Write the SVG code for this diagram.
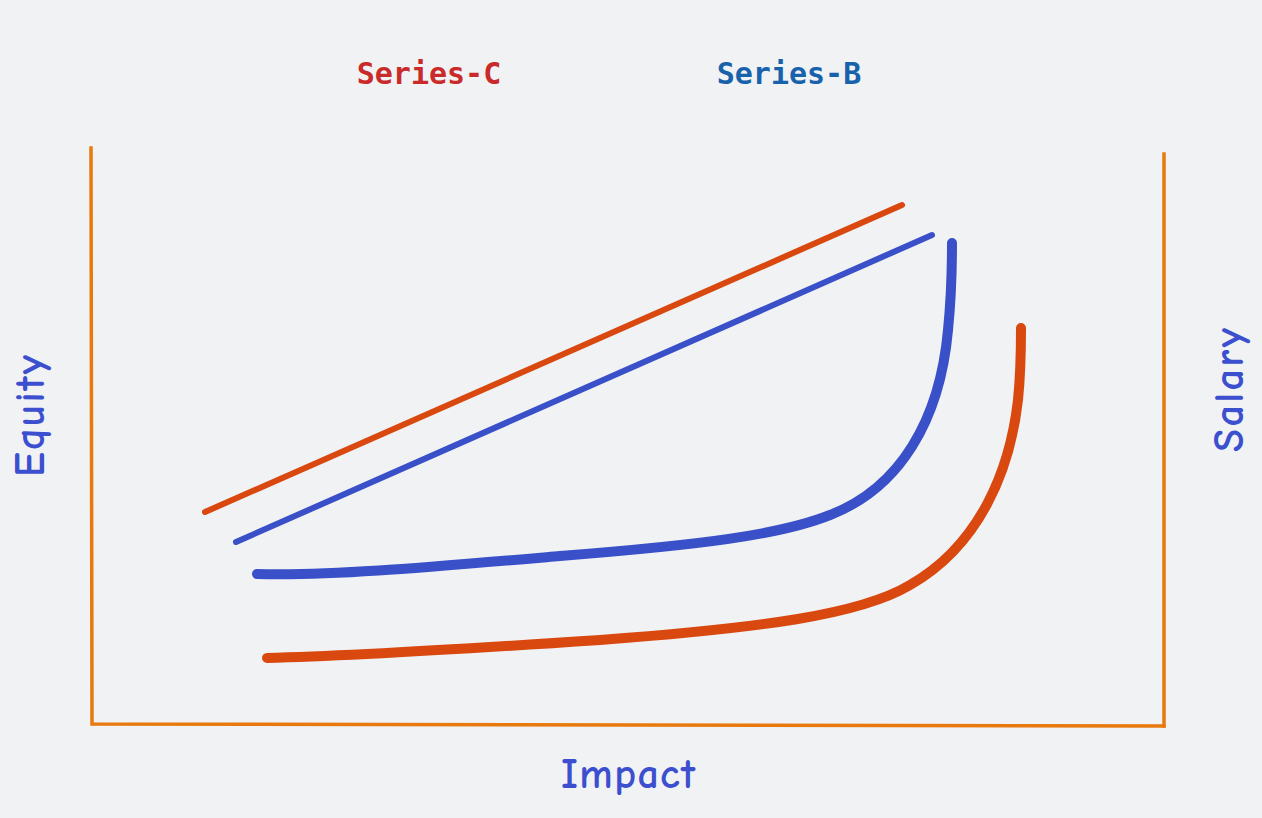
<svg xmlns="http://www.w3.org/2000/svg" width="1262" height="818" viewBox="0 0 1262 818">
<style>
.axis{fill:none;stroke:#e8790c;stroke-width:3.5;stroke-linecap:square}
.thin{fill:none;stroke-width:6;stroke-linecap:round}
.thick{fill:none;stroke-width:10;stroke-linecap:round}
.red{stroke:#d9480f}
.blue{stroke:#3a50c8}
.hand{font-family:"Comic Neue","Liberation Sans",sans-serif;font-size:42px;font-weight:bold;fill:#3b4fcf;text-anchor:middle}
.mono{font-family:"DejaVu Sans Mono","Liberation Mono",monospace;font-size:30px;font-weight:bold;text-anchor:middle}
</style>
<rect width="1262" height="818" fill="#f1f2f4"/>
<g id="axes">
<path class="axis" d="M91,148 L92,724 L1164,726"/>
<path class="axis" d="M1164,154 L1164,726"/>
</g>
<g id="connectors">
<path class="thin red" d="M205,512 L902,205"/>
<path class="thin blue" d="M236,542 L932,235"/>
<path class="thick blue" d="M257,574 C330,576 420,568 560,556 C700,545 780,535 830,515 C900,488 940,420 948,330 C952,290 952,260 952,243"/>
<path class="thick red" d="M267,658 C350,656 450,650 600,640 C760,628 860,615 910,585 C980,545 1010,470 1018,400 C1021,370 1021,340 1021,328"/>
</g>
<g id="series-c"><text class="mono" x="429" y="84" fill="#c92a2a">Series-C</text></g>
<g id="series-b"><text class="mono" x="789" y="84" fill="#1862ab">Series-B</text></g>
<g id="equity"><text class="hand" textLength="122" transform="translate(44,416) rotate(-90)">Equity</text></g>
<g id="salary"><text class="hand" textLength="124" transform="translate(1243,390) rotate(-90)">Salary</text></g>
<g id="impact"><text class="hand" textLength="134" x="628" y="788">Impact</text></g>
</svg>
